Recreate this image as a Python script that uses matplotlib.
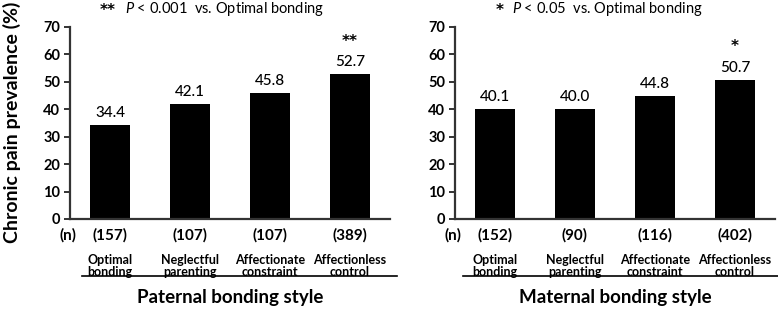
import matplotlib
matplotlib.use("Agg")
import matplotlib.pyplot as plt

plt.rcParams['font.family'] = ['Lato', 'DejaVu Sans']
plt.rcParams['mathtext.fontset'] = 'custom'
plt.rcParams['mathtext.it'] = 'Lato:italic'
plt.rcParams['mathtext.rm'] = 'Lato'

categories = ["Optimal\nbonding", "Neglectful\nparenting", "Affectionate\nconstraint", "Affectionless\ncontrol"]
paternal_values = [34.4, 42.1, 45.8, 52.7]
paternal_n = [157, 107, 107, 389]
paternal_sig = ["", "", "", "**"]
maternal_values = [40.1, 40.0, 44.8, 50.7]
maternal_n = [152, 90, 116, 402]
maternal_sig = ["", "", "", "*"]
yticks = [0, 10, 20, 30, 40, 50, 60, 70]

W, H = 778, 310
fig = plt.figure(figsize=(W / 100, H / 100), dpi=100)

panels = [
    dict(left=70, values=paternal_values, n=paternal_n, sig=paternal_sig,
         group="Paternal bonding style", title_prefix="**", pval="0.001",
         star_x=100, text_x=125, line=(82, 397)),
    dict(left=455, values=maternal_values, n=maternal_n, sig=maternal_sig,
         group="Maternal bonding style", title_prefix="*", pval="0.05",
         star_x=496, text_x=512, line=(463, 778)),
]

ax_top, ax_bot = 27, 219
spine_col = "#333333"
star_font = dict(family='DejaVu Sans', fontweight='bold')

for p in panels:
    ax = fig.add_axes([p['left'] / W, (H - ax_bot) / H, 320 / W, (ax_bot - ax_top) / H])
    x = list(range(len(categories)))
    ax.bar(x, p['values'], width=0.5, color='black', zorder=2)
    ax.set_xlim(-0.5, 3.5)
    ax.set_ylim(0, 70)
    ax.set_yticks(yticks)
    ax.set_yticklabels([str(t) for t in yticks], fontsize=10.5, fontweight='bold')
    ax.set_xticks([])
    for s in ['top', 'right']:
        ax.spines[s].set_visible(False)
    for s in ['left', 'bottom']:
        ax.spines[s].set_color(spine_col)
        ax.spines[s].set_linewidth(1.6)
    ax.tick_params(axis='y', direction='out', length=4, width=1.4, color=spine_col, pad=3)

    for i, v in enumerate(p['values']):
        ax.annotate(f"{v:.1f}", xy=(i, v), xytext=(0, 5), textcoords='offset pixels',
                    ha='center', va='bottom', fontsize=11, fontweight='medium')
        if p['sig'][i]:
            ax.annotate(p['sig'][i], xy=(i, v), xytext=(0, 33), textcoords='offset pixels',
                        ha='center', va='center', fontsize=11, **star_font)
        ax.annotate(f"({p['n'][i]})", xy=(i, 0), xycoords=ax.get_xaxis_transform(),
                    xytext=(0, -16), textcoords='offset pixels', ha='center', va='center',
                    fontsize=11, fontweight='bold')
        ax.annotate(categories[i], xy=(i, 0), xycoords=ax.get_xaxis_transform(),
                    xytext=(0, -47), textcoords='offset pixels', ha='center', va='center',
                    fontsize=9, fontweight='bold', linespacing=1.02, multialignment='center')
    ax.annotate("(n)", xy=(-0.5, 0), xycoords=ax.get_xaxis_transform(),
                xytext=(-2, -16), textcoords='offset pixels', ha='center', va='center',
                fontsize=11, fontweight='bold')

    fig.add_artist(plt.Line2D([p['line'][0] / W, p['line'][1] / W], [1 - 276 / H, 1 - 276 / H],
                              transform=fig.transFigure, color='black', lw=1.2))
    fig.text((p['left'] + 160) / W, 1 - 297 / H, p['group'], ha='center', va='center',
             fontsize=13.5, fontweight='bold')
    fig.text(p['star_x'] / W, 1 - 10 / H, p['title_prefix'], ha='left', va='center',
             fontsize=11, **star_font)
    fig.text(p['text_x'] / W, 1 - 9 / H,
             "$\\it{P}$" + " < " + p['pval'] + "  vs. Optimal bonding",
             ha='left', va='center', fontsize=10.5)

fig.text(12 / W, 1 - 122 / H, "Chronic pain prevalence (%)", rotation=90, ha='center',
         va='center', fontsize=14, fontweight='bold')

fig.savefig("out.png", dpi=100)
